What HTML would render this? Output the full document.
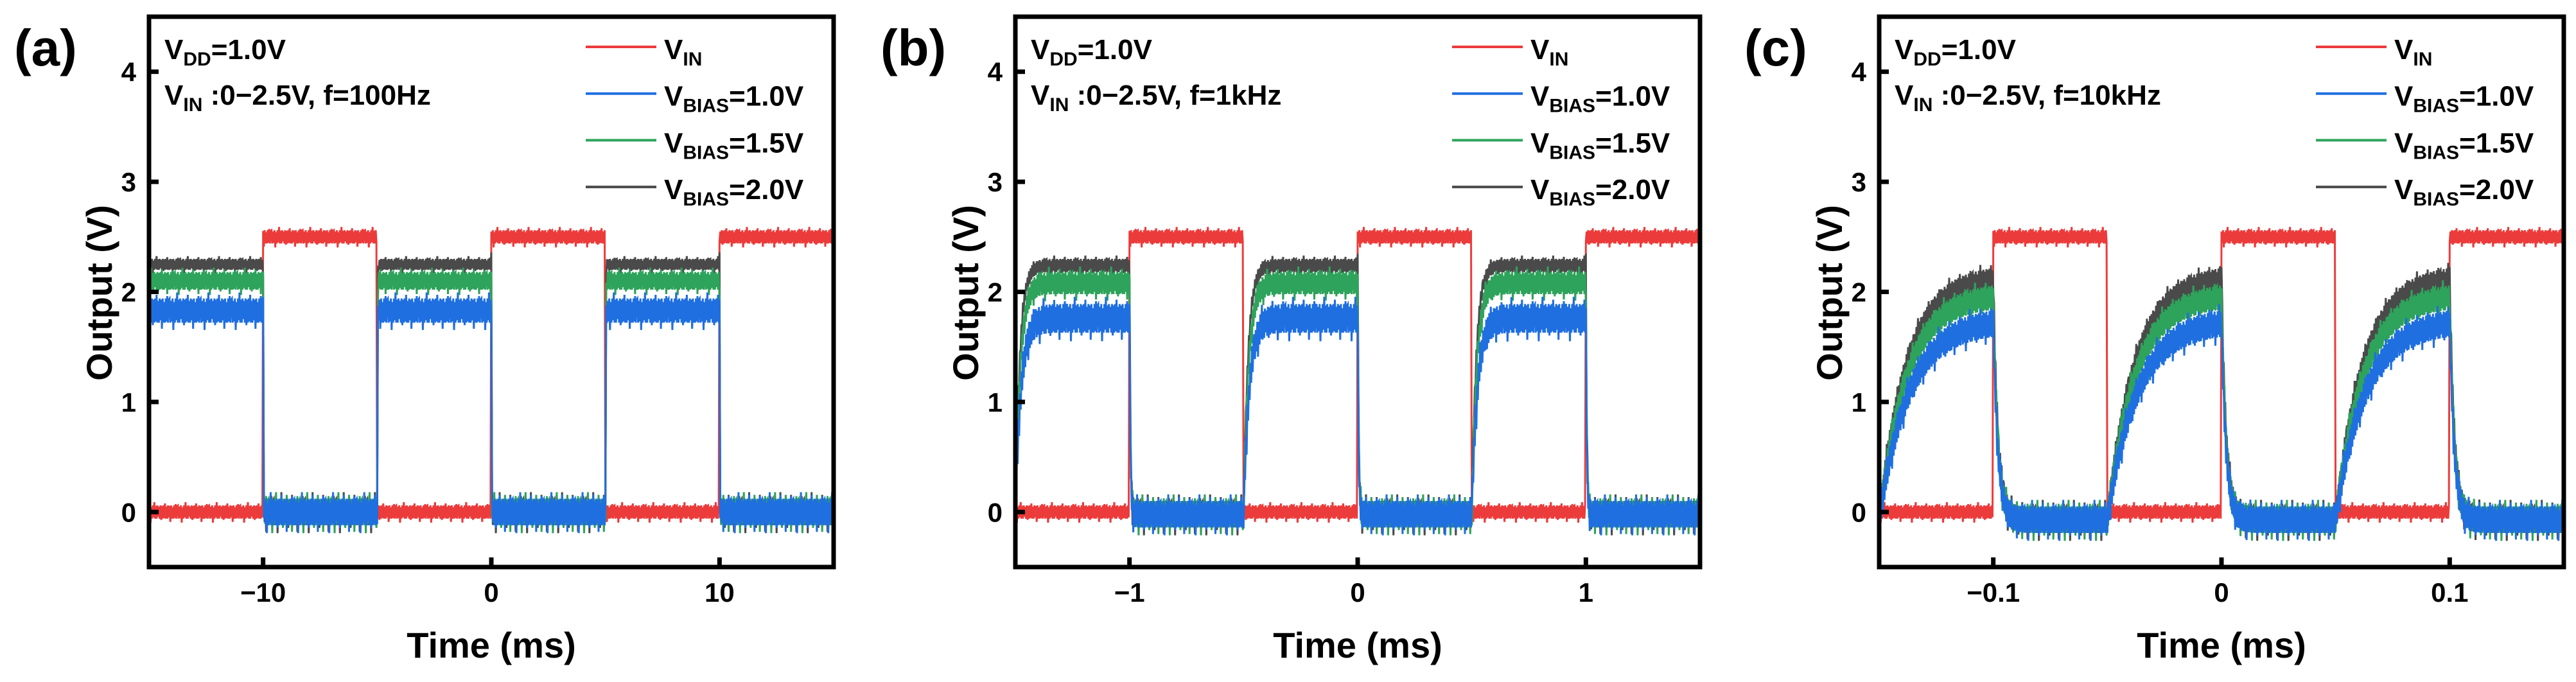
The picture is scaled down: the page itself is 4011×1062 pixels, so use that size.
<!DOCTYPE html>
<html><head><meta charset="utf-8">
<style>
html,body{margin:0;padding:0;background:#fff;}
svg{display:block;font-family:"Liberation Sans",Arial,sans-serif;font-weight:bold;}
</style></head>
<body>
<svg id="fig" width="4011" height="1062" viewBox="0 0 4011 1062" xmlns="http://www.w3.org/2000/svg"></svg>
<script>
// ---------- data ----------
const panelLabels = ["(a)", "(b)", "(c)"];
const freqLabels = ["f=100Hz", "f=1kHz", "f=10kHz"];
const xTicksA = [-10, 0, 10];
const xTicksB = [-1, 0, 1];
const xTicksC = [-0.1, 0, 0.1];
const xTickLabelsA = ["\u221210", "0", "10"];
const xTickLabelsB = ["\u22121", "0", "1"];
const xTickLabelsC = ["\u22120.1", "0", "0.1"];
const xRangeA = [-15, 15];
const xRangeB = [-1.5, 1.5];
const xRangeC = [-0.15, 0.15];
const yTicks = [0, 1, 2, 3, 4];
const yRange = [-0.5, 4.5];
const vinHighStartsA = [-10, 0, 10];
const vinHighStartsB = [-1, 0, 1];
const vinHighStartsC = [-0.1, 0, 0.1];
const halfPeriodA = [5];
const halfPeriodB = [0.5];
const halfPeriodC = [0.05];
const vinLevels = [0.0, 2.5];
const seriesNames = ["VBIAS=2.0V", "VBIAS=1.5V", "VBIAS=1.0V"];
const outHighA = [2.25, 2.1, 1.83];
const outHighB = [2.24, 2.08, 1.76];
const outHighC = [2.15, 1.98, 1.75];
const outLowA = [0.0, 0.0, 0.0];
const outLowB = [-0.02, -0.02, -0.02];
const outLowC = [-0.07, -0.07, -0.07];
const tauRiseA = [0.01, 0.01, 0.01];
const tauRiseB = [0.02, 0.022, 0.025];
const tauRiseC = [0.012, 0.012, 0.013];
const tauFallA = [0.01];
const tauFallB = [0.004];
const tauFallC = [0.002];
const noiseAmpA = [0.05, 0.08, 0.11];
const noiseAmpB = [0.06, 0.1, 0.13];
const noiseAmpC = [0.1, 0.11, 0.12];
const vinNoise = [0.06];
const noisePattern = [1,-1,0.8,-0.9,1,-1.6,0.7,-1,1,-0.8,1.5,-1,0.9,-1,1,-0.7,0.8,-1,1,-1.2,
  0.9,-1,1,-0.9,1.3,-1,0.8,-1,1,-0.8,0.9,-1.5,1,-1,0.7,-1,1,-0.9,1.2,-1,0.9];
const seriesColors = ["#4a4a4a", "#2ea35b", "#1f6fe0"];
const vinColor = "#ec3b3b";

// ---------- helpers ----------
const NS = "http://www.w3.org/2000/svg";
const svg = document.getElementById("fig");
function mk(tag, attrs, parent) {
  const e = document.createElementNS(NS, tag);
  for (const k in attrs) e.setAttribute(k, attrs[k]);
  (parent || svg).appendChild(e);
  return e;
}
const top0 = 26, bot0 = 883, W = 1066;
const panelLefts = [232, 1581, 2926];

function drawPanel(p, xr, xt, xtl, starts, half, oh, ol, tr, tf, na) {
  const L = panelLefts[p];
  const g = mk("g", {});
  
  
  const sx = v => L + (v - xr[0]) / (xr[1] - xr[0]) * W;
  const sy = v => bot0 - (v - yRange[0]) / (yRange[1] - yRange[0]) * (bot0 - top0);
  const isHigh = t => starts.some(s => t >= s && t < s + half[0]);
  const clip = mk("clipPath", {id: "clip" + p}, g);
  mk("rect", {x: L, y: top0, width: W, height: bot0 - top0}, clip);
  const plot = mk("g", {"clip-path": "url(#clip" + p + ")"}, g);
  
  
  const N = 900;
  const edges = [];
  starts.forEach(st => { edges.push([st, true]); edges.push([st + half[0], false]); });
  edges.push([starts[0] - half[0], false]);
  edges.sort((a, b) => a[0] - b[0]);
  const traces = [];
  for (let s = 0; s < 3; s++) {
    let pts = [];
    for (let i = 0; i <= N; i++) {
      const t = xr[0] + i * (xr[1] - xr[0]) / N;
      let found = null;
      for (const e of edges) if (e[0] <= t) found = e;
      let v;
      const hi = oh[s], lo = ol[s];
      if (!found) { v = lo + (hi - lo) * (1 - Math.exp(-(t - xr[0]) / tr[s])); }
      else if (found[1]) {
        const dt = t - found[0];
        const startV = lo + (hi - lo) * (1 - Math.exp(-half[0] / tr[s]));
        v = lo + (startV - lo) * Math.exp(-dt / tf[0]);
      } else {
        const dt = t - found[0];
        v = lo + (hi - lo) * (1 - Math.exp(-dt / tr[s]));
      }
      const lowPhase = found && found[1];
      const amp = lowPhase ? 0.12 : na[s];
      v += amp * noisePattern[(i + s * 7) % noisePattern.length];
      pts.push(sx(t).toFixed(1) + "," + sy(v).toFixed(1));
    }
    traces.push(pts.join(" "));
  }
  let vp = [];
  for (let i = 0; i <= N; i++) {
    const t = xr[0] + i * (xr[1] - xr[0]) / N;
    let v = isHigh(t) ? vinLevels[1] : vinLevels[0];
    v += vinNoise[0] * noisePattern[(i + 3) % noisePattern.length];
    vp.push(sx(t).toFixed(1) + "," + sy(v).toFixed(1));
  }
  const vl = mk("polyline", {points: vp.join(" "), fill: "none", stroke: vinColor, "stroke-width": 3}, plot);
  
  
  for (let s = 0; s < 3; s++) {
    const pl = mk("polyline", {points: traces[s], fill: "none", stroke: seriesColors[s], "stroke-width": 3}, plot);
    
    
  }
  const fr = mk("rect", {x: L, y: top0, width: W, height: bot0 - top0, fill: "none", stroke: "#000", "stroke-width": 7}, g);
  
  
  yTicks.forEach(v => {
    mk("line", {x1: L, x2: L + 15, y1: sy(v), y2: sy(v), stroke: "#000", "stroke-width": 7}, g);
    const tx = mk("text", {x: L - 20, y: sy(v) + 15, "text-anchor": "end", "font-size": 42}, g);
    tx.textContent = String(v);
    
    
  });
  xt.forEach((v, k) => {
    mk("line", {x1: sx(v), x2: sx(v), y1: bot0, y2: bot0 - 15, stroke: "#000", "stroke-width": 7}, g);
    const tx = mk("text", {x: sx(v), y: 937, "text-anchor": "middle", "font-size": 42}, g);
    tx.textContent = xtl[k];
    
    
  });
  const xl = mk("text", {x: L + W / 2, y: 1024, "text-anchor": "middle", "font-size": 56}, g);
  xl.textContent = "Time (ms)";
  
  
  const yl = mk("text", {x: 0, y: 0, "text-anchor": "middle", "font-size": 56, transform: "translate(" + (L - 58) + ",456) rotate(-90)"}, g);
  yl.textContent = "Output (V)";
  
  
  const pl = mk("text", {x: L - 210, y: 102, "font-size": 80}, g);
  pl.textContent = panelLabels[p];
  
  
  const a1 = mk("text", {x: L + 24, y: 92, "font-size": 44}, g);
  a1.innerHTML = 'V<tspan font-size="30" dy="10">DD</tspan><tspan dy="-10">=1.0V</tspan>';
  
  
  const a2 = mk("text", {x: L + 24, y: 163, "font-size": 44}, g);
  a2.innerHTML = 'V<tspan font-size="30" dy="10">IN</tspan><tspan dy="-10"> :0\u22122.5V, ' + freqLabels[p] + '</tspan>';
  
  
  const legCols = [vinColor, seriesColors[2], seriesColors[1], seriesColors[0]];
  const legSub = ["IN", "BIAS", "BIAS", "BIAS"];
  const legRest = ["", "=1.0V", "=1.5V", "=2.0V"];
  for (let r = 0; r < 4; r++) {
    const ly = 73 + r * 72.7;
    const lg = mk("g", {}, g);
    
    
    mk("line", {x1: L + 680, x2: L + 790, y1: ly, y2: ly, stroke: legCols[r], "stroke-width": 4}, lg);
    const t = mk("text", {x: L + 802, y: ly + 19, "font-size": 44}, lg);
    t.innerHTML = 'V<tspan font-size="30" dy="10">' + legSub[r] + '</tspan><tspan dy="-10">' + legRest[r] + '</tspan>';
  }
}
drawPanel(0, xRangeA, xTicksA, xTickLabelsA, vinHighStartsA, halfPeriodA, outHighA, outLowA, tauRiseA, tauFallA, noiseAmpA);
drawPanel(1, xRangeB, xTicksB, xTickLabelsB, vinHighStartsB, halfPeriodB, outHighB, outLowB, tauRiseB, tauFallB, noiseAmpB);
drawPanel(2, xRangeC, xTicksC, xTickLabelsC, vinHighStartsC, halfPeriodC, outHighC, outLowC, tauRiseC, tauFallC, noiseAmpC);
</script>
</body></html>
